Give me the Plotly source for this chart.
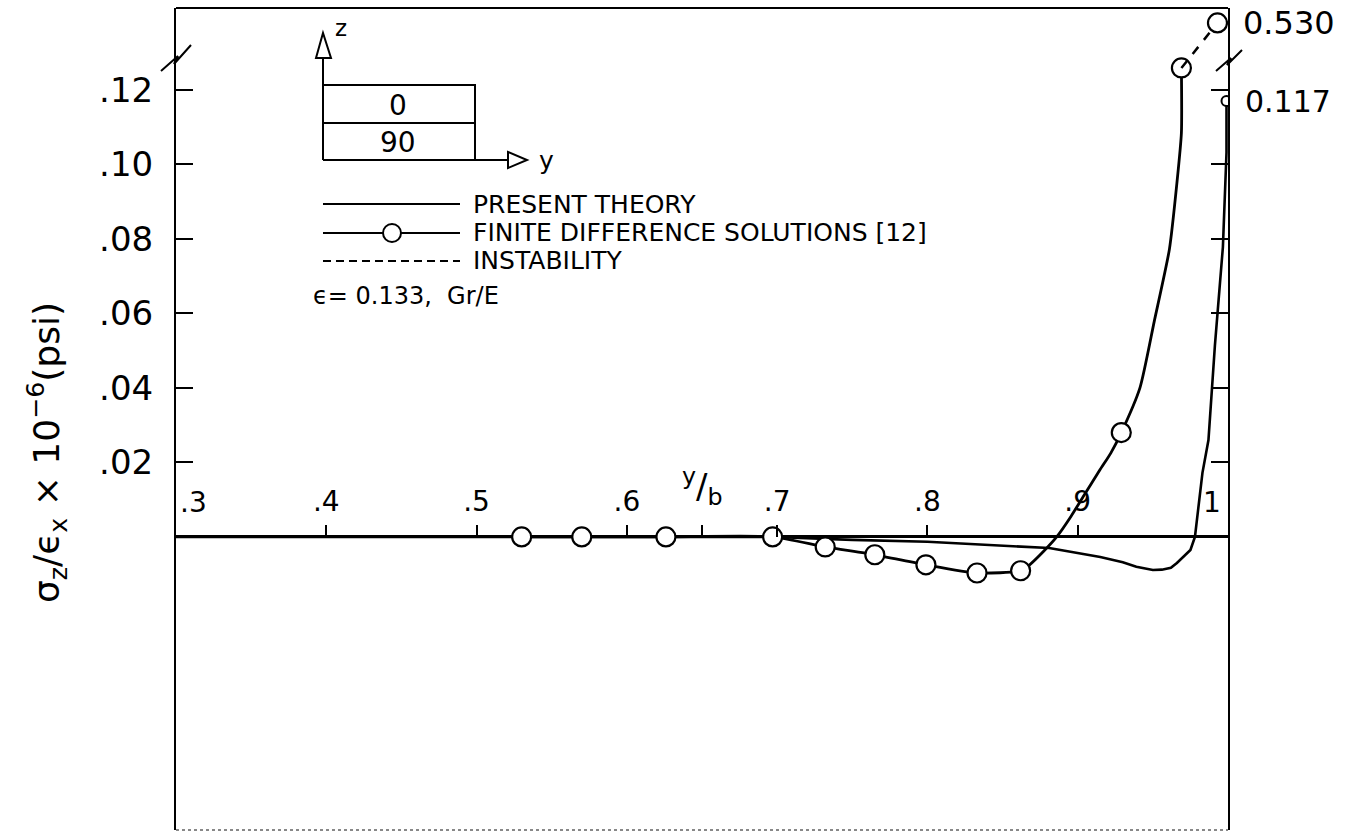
import plotly.graph_objects as go

# ---- data -------------------------------------------------------------
# present theory: sigma_z / eps_x (x 1e-6 psi) along y/b
theory_x = [0.30, 0.70, 0.715, 0.75, 0.80, 0.815, 0.848, 0.881, 0.915, 0.930,
            0.939, 0.945, 0.950, 0.956, 0.962, 0.966, 0.970, 0.975, 0.978,
            0.983, 0.987, 0.9913, 0.9966, 0.9976, 0.9990, 0.9990]
theory_y = [0.0, 0.0, -0.0003, -0.0008, -0.0013, -0.0016, -0.0024, -0.0030,
            -0.0054, -0.0068, -0.0080, -0.0086, -0.0089, -0.0088, -0.0083,
            -0.0070, -0.0055, -0.0035, 0.0, 0.0172, 0.0260, 0.0515, 0.0778,
            0.090, 0.1032, 0.117]

# finite difference solutions [12]: computed points
fd_x = [0.530, 0.570, 0.626, 0.697, 0.732, 0.765, 0.799, 0.833, 0.862, 0.929, 0.969]
fd_y = [0.0, 0.0, 0.0, 0.0, -0.0027, -0.0048, -0.0075, -0.0097, -0.0091, 0.028, 0.1259]

# faired curve through the finite difference points
fd_curve_x = [0.530, 0.570, 0.626, 0.697, 0.732, 0.765, 0.799, 0.833, 0.862,
              0.868, 0.877, 0.886, 0.8955, 0.9035, 0.9148, 0.9220, 0.929,
              0.9414, 0.951, 0.961, 0.966, 0.969, 0.969]
fd_curve_y = [0.0, 0.0, 0.0, 0.0, -0.0027, -0.0048, -0.0075, -0.0097, -0.0091,
              -0.0075, -0.0040, 0.0, 0.0055, 0.0107, 0.0180, 0.0225, 0.028,
              0.040, 0.058, 0.0772, 0.095, 0.1085, 0.1259]

# point beyond the axis break (instability)
instab_x = [0.969, 0.993]
instab_y = [0.1259, 0.530]

x_ticks = [0.4, 0.5, 0.6, 0.65, 0.7, 0.8, 0.9]
x_tick_text = [".4", ".5", ".6", "", ".7", ".8", ".9"]
y_ticks = [0.02, 0.04, 0.06, 0.08, 0.10, 0.12]
y_tick_text = [".02", ".04", ".06", ".08", ".10", ".12"]

X_RANGE = [0.3, 1.0]
Y_RANGE = [-0.0787, 0.142]
BREAK_SHIFT = 0.392   # values above the break are drawn on a shifted scale

FONT = "DejaVu Sans"
INK = "black"

# ---- plot area in pixels (for the decorations) -----------------------
W, H = 1353, 832
L, R, T, B = 176, 1228, 8, 830


def P(xp, yp):
    return (xp - L) / (R - L), (B - yp) / (B - T)


def path(points, close=False):
    s = ""
    for i, (xp, yp) in enumerate(points):
        x, y = P(xp, yp)
        s += ("M" if i == 0 else " L") + f"{x:.5f},{y:.5f}"
    return s + (" Z" if close else "")


fig = go.Figure()

fig.add_trace(go.Scatter(x=theory_x, y=theory_y, mode="lines",
                         line=dict(color=INK, width=2.6),
                         name="PRESENT THEORY", showlegend=False))
fig.add_trace(go.Scatter(x=fd_curve_x, y=fd_curve_y, mode="lines",
                         line=dict(color=INK, width=2.8, shape="spline", smoothing=0.6),
                         showlegend=False))
fig.add_trace(go.Scatter(x=fd_x, y=fd_y, mode="markers",
                         marker=dict(symbol="circle", size=19, color="white",
                                     line=dict(color=INK, width=2.2)),
                         name="FINITE DIFFERENCE SOLUTIONS [12]", showlegend=False))
# theory end value at the free edge
fig.add_trace(go.Scatter(x=[theory_x[-1]], y=[theory_y[-1]], mode="markers",
                         marker=dict(symbol="circle", size=10, color="white",
                                     line=dict(color=INK, width=2)),
                         showlegend=False))
# instability branch above the axis break (shifted scale on y2)
fig.add_trace(go.Scatter(x=instab_x,
                         y=[instab_y[0] + BREAK_SHIFT, instab_y[1]],
                         yaxis="y2", mode="lines",
                         line=dict(color=INK, width=2.5, dash="dash"),
                         showlegend=False))
fig.add_trace(go.Scatter(x=[instab_x[1]], y=[instab_y[1]], yaxis="y2",
                         mode="markers",
                         marker=dict(symbol="circle", size=19, color="white",
                                     line=dict(color=INK, width=2.2)),
                         showlegend=False))

zero_pos = (0 - Y_RANGE[0]) / (Y_RANGE[1] - Y_RANGE[0])

fig.update_layout(
    width=W, height=H, autosize=False,
    margin=dict(l=L, r=W - R, t=T, b=H - B, pad=0),
    paper_bgcolor="white", plot_bgcolor="white",
    showlegend=False,
    font=dict(family=FONT, color=INK),
    # the y/b axis runs along sigma_z = 0, ticks and labels above it
    xaxis=dict(range=X_RANGE, anchor="free", position=zero_pos, side="top",
               showgrid=False, zeroline=False, showline=False,
               ticks="outside", ticklen=12, tickwidth=2, tickcolor=INK,
               tickvals=x_ticks, ticktext=x_tick_text,
               tickfont=dict(family=FONT, size=28, color=INK),
               ticklabelstandoff=3),
    yaxis=dict(range=Y_RANGE, showgrid=False,
               zeroline=True, zerolinecolor=INK, zerolinewidth=2.5,
               showline=True, linecolor=INK, linewidth=2, mirror="ticks",
               ticks="inside", ticklen=17, tickwidth=2, tickcolor=INK,
               tickvals=y_ticks, ticktext=y_tick_text,
               tickfont=dict(family=FONT, size=34, color=INK),
               ticklabelstandoff=14),
    yaxis2=dict(range=[Y_RANGE[0] + BREAK_SHIFT, Y_RANGE[1] + BREAK_SHIFT],
                overlaying="y", visible=False),
)

shapes = []
line_kw = dict(color=INK, width=2)
# top and bottom of the frame
shapes.append(dict(type="path", xref="paper", yref="paper",
                   path=path([(L, T), (R, T)]), line=line_kw))
shapes.append(dict(type="path", xref="paper", yref="paper",
                   path=path([(L, B), (R, B)]),
                   line=dict(color="#888", width=2, dash="dot")))
# axis break marks
shapes.append(dict(type="path", xref="paper", yref="paper",
                   path=path([(161, 71), (178, 56), (174, 64), (191, 45)]),
                   line=line_kw))
shapes.append(dict(type="path", xref="paper", yref="paper",
                   path=path([(1216, 71), (1231, 58), (1227, 65), (1242, 50)]),
                   line=line_kw))

# layup sketch: z / y axes with the 0 / 90 plies
shapes.append(dict(type="path", xref="paper", yref="paper",
                   path=path([(323, 160), (323, 58)]), line=line_kw))
shapes.append(dict(type="path", xref="paper", yref="paper",
                   path=path([(316, 58), (323, 33), (331, 58)], close=True),
                   line=line_kw, fillcolor="white"))
shapes.append(dict(type="path", xref="paper", yref="paper",
                   path=path([(323, 85), (475, 85), (475, 160)]), line=line_kw))
shapes.append(dict(type="path", xref="paper", yref="paper",
                   path=path([(323, 123), (475, 123)]), line=line_kw))
shapes.append(dict(type="path", xref="paper", yref="paper",
                   path=path([(323, 160), (508, 160)]), line=line_kw))
shapes.append(dict(type="path", xref="paper", yref="paper",
                   path=path([(508, 152), (527, 160), (508, 168)], close=True),
                   line=line_kw, fillcolor="white"))

# key
shapes.append(dict(type="path", xref="paper", yref="paper",
                   path=path([(323, 204), (460, 204)]), line=line_kw))
shapes.append(dict(type="path", xref="paper", yref="paper",
                   path=path([(323, 233), (460, 233)]), line=line_kw))
cx0, cy0 = P(383, 242)
cx1, cy1 = P(401, 224)
shapes.append(dict(type="circle", xref="paper", yref="paper",
                   x0=cx0, y0=cy0, x1=cx1, y1=cy1,
                   line=line_kw, fillcolor="white"))
shapes.append(dict(type="path", xref="paper", yref="paper",
                   path=path([(323, 261), (460, 261)]),
                   line=dict(color=INK, width=2, dash="8px,5px")))
fig.update_layout(shapes=shapes)


def note(xp, yp, text, size, xanchor="left", yanchor="middle"):
    x, y = P(xp, yp)
    fig.add_annotation(x=x, y=y, xref="paper", yref="paper", text=text,
                       showarrow=False, xanchor=xanchor, yanchor=yanchor,
                       font=dict(family=FONT, size=size, color=INK))


note(341, 28, "z", 23, xanchor="center")
note(546, 160, "y", 25, xanchor="center")
note(398, 106, "0", 28, xanchor="center")
note(398, 143, "90", 28, xanchor="center")
note(471, 204, "PRESENT THEORY", 25)
note(471, 232, "FINITE DIFFERENCE SOLUTIONS [12]", 25)
note(471, 260, "INSTABILITY", 25)
note(311, 296, "ϵ= 0.133,  Gr/E", 24)

# end labels of the horizontal axis and the y/b marker
fig.add_annotation(x=X_RANGE[0], y=0, xref="x", yref="y", text=".3",
                   showarrow=False, xanchor="left", yanchor="bottom",
                   xshift=2, yshift=16, font=dict(family=FONT, size=28, color=INK))
fig.add_annotation(x=X_RANGE[1], y=0, xref="x", yref="y", text="1",
                   showarrow=False, xanchor="right", yanchor="bottom",
                   xshift=-5, yshift=16, font=dict(family=FONT, size=28, color=INK))
fig.add_annotation(x=0.65, y=0, xref="x", yref="y",
                   text="<sup>y</sup>/<sub>b</sub>",
                   showarrow=False, xanchor="center", yanchor="bottom",
                   yshift=24, font=dict(family=FONT, size=34, color=INK))

# value labels at the free edge
fig.add_annotation(x=instab_x[1], y=instab_y[1], xref="x", yref="y2",
                   text=f"{instab_y[1]:.3f}", showarrow=False,
                   xanchor="left", yanchor="middle", xshift=24,
                   font=dict(family=FONT, size=32, color=INK))
fig.add_annotation(x=theory_x[-1], y=theory_y[-1], xref="x", yref="y",
                   text=f"{theory_y[-1]:.3f}", showarrow=False,
                   xanchor="left", yanchor="middle", xshift=16,
                   font=dict(family=FONT, size=30, color=INK))

# ordinate title
tx, ty = P(47, 453)
fig.add_annotation(x=tx, y=ty, xref="paper", yref="paper",
                   text="σ<sub>z</sub>/ϵ<sub>x</sub> × 10<sup>−6</sup>(psi)",
                   textangle=-90, showarrow=False,
                   xanchor="center", yanchor="middle",
                   font=dict(family=FONT, size=36, color=INK))

fig.write_html("out.html")
